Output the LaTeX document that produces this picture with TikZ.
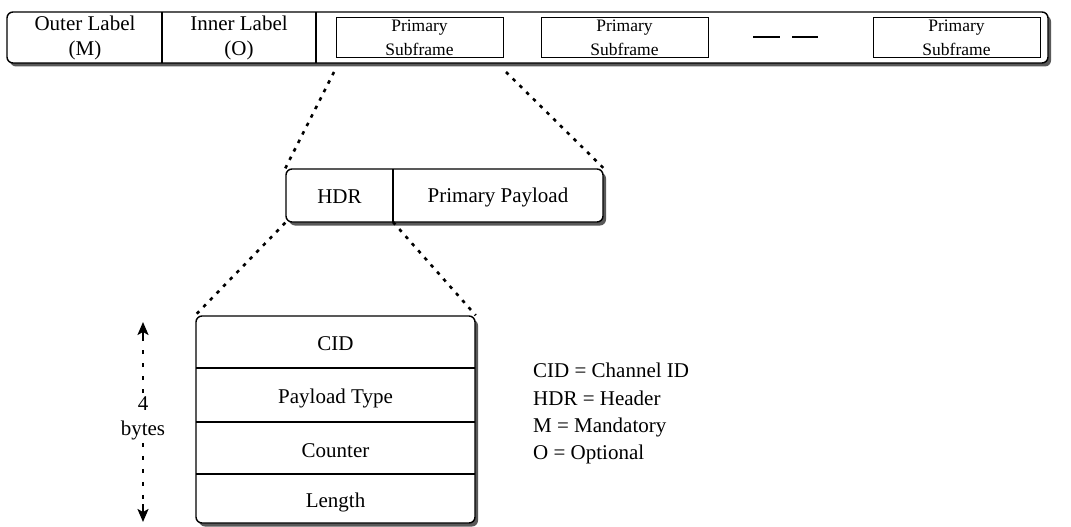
\documentclass[tikz,border=0pt]{standalone}
\usepackage{fontspec}
\setmainfont{Liberation Serif}
\usetikzlibrary{shadows,arrows.meta}
\begin{document}
\begin{tikzpicture}[x=1pt,y=-1pt,
  box/.style={draw, line width=1.4pt, rounded corners=6pt, fill=white,
    drop shadow={shadow xshift=3pt, shadow yshift=-3.5pt, fill=black!65, opacity=1},
    inner sep=0pt},
  subbox/.style={draw, line width=1pt, fill=white, minimum width=167pt, minimum height=40pt, inner sep=0pt},
  lbl/.style={font=\fontsize{21}{25}\selectfont, inner sep=0pt, align=center},
  small/.style={font=\fontsize{17.5}{21}\selectfont, inner sep=0pt, align=center},
  sep/.style={line width=1.2pt},
  dots/.style={line width=2.6pt, dash pattern=on 3.5pt off 6pt},
  vdots/.style={line width=2.6pt, dash pattern=on 4pt off 9pt},
  tip/.style={line width=2pt, -{Stealth[length=13pt,width=11pt,inset=3pt]}},
]
\useasboundingbox (0,0) rectangle (1071,527);

% top frame
\node[box, minimum width=1041pt, minimum height=51pt] (frame) at (527.5,37.5) {};
\draw[sep] (162,12) -- (162,63);
\draw[sep] (316,12) -- (316,63);
\node[lbl] (outer) at (85,38) {Outer Label\\(M)};
\node[lbl] (inner) at (239,38) {Inner Label\\(O)};
\node[subbox] (sf1) at (419.5,38) {};
\node[subbox] (sf2) at (624.5,38) {};
\node[subbox] (sf3) at (956.5,38) {};
\foreach \s in {sf1,sf2,sf3}{
  \node[small] at ([yshift=10pt]\s.center) {Primary};
  \node[small] at ([yshift=-11pt]\s.center) {Subframe};
}
\draw[line width=2.4pt] (753,37) -- (780,37);
\draw[line width=2.4pt] (792,37) -- (818,37);

% header box
\node[box, minimum width=317pt, minimum height=53pt] (hdrbox) at (444.5,195.5) {};
\draw[sep] (393,169) coordinate (hdrtop) -- (393,222) coordinate (hdrbot);
\node[lbl] (hdr) at (339.5,197) {HDR};
\node[lbl] (payload) at (498,197) {Primary Payload};

% CID box
\node[box, minimum width=279pt, minimum height=207pt] (cidbox) at (335.5,419.5) {};
\draw[sep] (196,368) -- (475,368);
\draw[sep] (196,422) -- (475,422);
\draw[sep] (196,474) -- (475,474);
\node[lbl] (cid) at (335.5,344) {CID};
\node[lbl] (ptype) at (335.5,398) {Payload Type};
\node[lbl] (counter) at (335.5,451) {Counter};
\node[lbl] (length) at (335.5,502) {Length};

% zoom connectors
\coordinate (z1) at (334,72);
\coordinate (z2) at (506,72);
\draw[dots] (z1) -- (hdrbox.north west);
\draw[dots] (z2) -- (hdrbox.north east);
\draw[dots] (hdrbox.south west) -- (cidbox.north west);
\draw[dots] (hdrbot) -- (cidbox.north east);

% bytes arrow
\node[lbl, align=center, inner ysep=3pt] (bytes) at (143,418) {4\\bytes};
\coordinate (atop) at (143,322);
\coordinate (abot) at (143,522);
\coordinate (atop2) at (143,340);
\coordinate (abot2) at (143,504);
\draw[vdots] (bytes.north) -- (atop2);
\draw[vdots] (bytes.south) -- (abot2);
\draw[tip] (atop2) -- (atop);
\draw[tip] (abot2) -- (abot);

% legend
\node[lbl, anchor=west] (leg1) at (533,370) {CID = Channel ID};
\node[lbl, anchor=west] (leg2) at (533,398) {HDR = Header};
\node[lbl, anchor=west] (leg3) at (533,427) {M = Mandatory};
\node[lbl, anchor=west] (leg4) at (533,454) {O = Optional};
\end{tikzpicture}
\end{document}
